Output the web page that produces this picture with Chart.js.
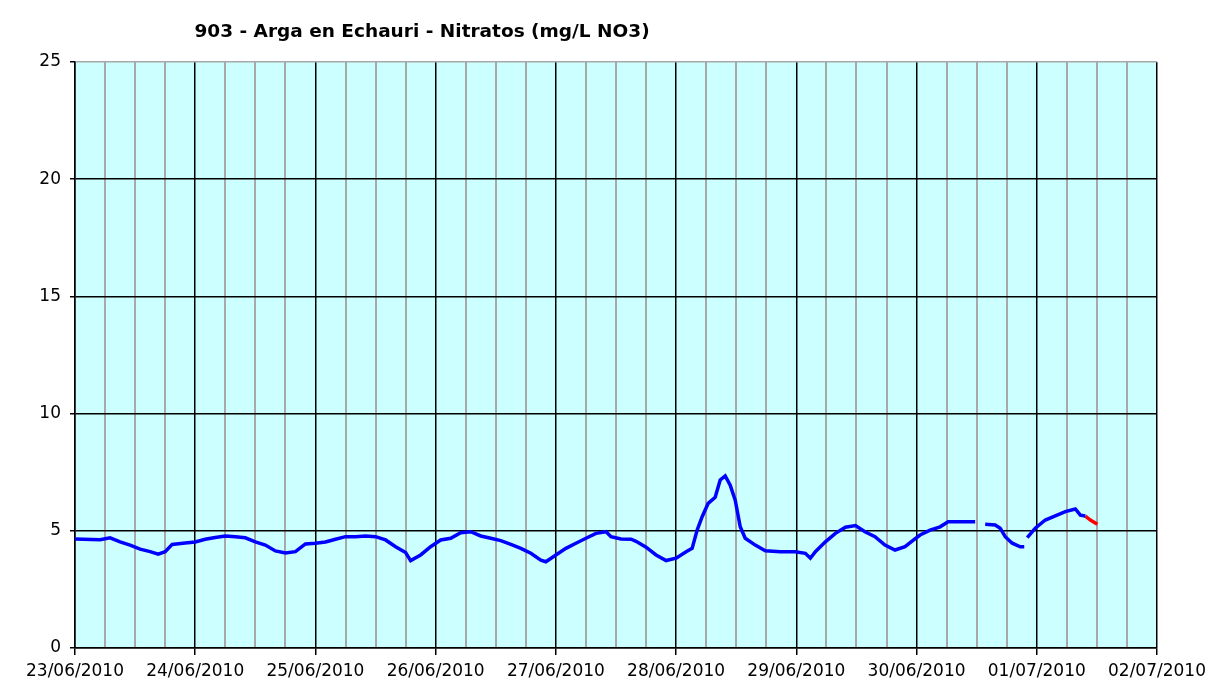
<!DOCTYPE html>
<html>
<head>
<meta charset="utf-8">
<script src="https://cdn.jsdelivr.net/npm/chart.js@4.4.1/dist/chart.umd.min.js"></script>
<style>
  html, body { margin: 0; padding: 0; background: #ffffff; }
  #wrap { width: 1227px; height: 689px; }
</style>
</head>
<body>
<div id="wrap"><canvas id="nitratosChart"></canvas></div>
<script>
// Nitratos - hours since 23/06/2010 00:00
const chartTitle = '903 - Arga en Echauri - Nitratos (mg/L NO3)';
const dayLabels = ['23/06/2010', '24/06/2010', '25/06/2010', '26/06/2010', '27/06/2010',
    '28/06/2010', '29/06/2010', '30/06/2010', '01/07/2010', '02/07/2010'];

const blueHours = [0, 5, 7, 9, 11, 13, 15, 16.6, 18, 19.4, 22, 24, 26, 28, 30, 32, 34, 36,
    38, 40, 42, 44, 46, 48, 50, 52, 54, 56, 58, 60, 62, 64, 66, 67, 69, 71, 73, 75, 77, 79,
    81, 83, 85, 87, 89, 91, 93, 94, 96, 98, 100, 102, 104, 106, 107, 109, 111, 112, 114, 116,
    118, 120, 122, 123.2, 124.2, 125.2, 126.4, 127.8, 128.8, 129.8, 130.8, 131.8, 132.8, 133.8,
    135.8, 137.8, 140.8, 143.8, 145.8, 146.8, 147.8, 149.8, 151.8, 153.8, 155.8, 157.7, 159.7,
    161.7, 163.7, 165.7, 167.1, 168.7, 170.7, 172.7, 174.3, 179.7, 180.5,
    181.7, 183.7, 184.7, 185.7, 187.1, 188.7, 189.5, 189.8,
    190.1, 191.7, 193.7, 195.7, 197.7, 199.7, 200.7, 201.7];
const blueValues = [4.65, 4.62, 4.7, 4.53, 4.39, 4.22, 4.11, 4.0, 4.11, 4.42, 4.48, 4.52, 4.64,
    4.71, 4.78, 4.75, 4.7, 4.53, 4.39, 4.14, 4.05, 4.11, 4.44, 4.47, 4.52, 4.64, 4.75, 4.75,
    4.78, 4.75, 4.61, 4.32, 4.07, 3.73, 3.97, 4.32, 4.61, 4.68, 4.92, 4.96, 4.78, 4.68, 4.58,
    4.42, 4.25, 4.04, 3.75, 3.68, 3.97, 4.25, 4.47, 4.68, 4.89, 4.96, 4.75, 4.65, 4.64, 4.55,
    4.3, 3.97, 3.73, 3.83, 4.11, 4.25, 5.03, 5.6, 6.17, 6.43, 7.17, 7.34, 6.95, 6.31, 5.17,
    4.68, 4.39, 4.15, 4.11, 4.11, 4.04, 3.83, 4.11, 4.53, 4.89, 5.15, 5.22, 4.96, 4.75, 4.39,
    4.18, 4.32, 4.56, 4.82, 5.03, 5.17, 5.39, 5.39, null,
    5.28, 5.25, 5.11, 4.75, 4.47, 4.32, 4.32, null,
    4.71, 5.11, 5.46, 5.64, 5.82, 5.93, 5.67, 5.63];

const redHours = [201.7, 202.7, 204.1];
const redValues = [5.63, 5.46, 5.28];

const toPoints = (xs, ys) => xs.map((x, i) => ({ x: x, y: ys[i] }));

const plotBackground = {
    id: 'plotBackground',
    beforeDraw(chart) {
        const { ctx, chartArea } = chart;
        ctx.save();
        ctx.fillStyle = '#ccffff';
        ctx.fillRect(chartArea.left, chartArea.top, chartArea.right - chartArea.left, chartArea.bottom - chartArea.top);
        ctx.restore();
    },
    afterDraw(chart) {
        const ctx = chart.ctx;
        ctx.save();
        ctx.fillStyle = '#000000';
        ctx.font = 'bold 18.5px "DejaVu Sans", sans-serif';
        ctx.textAlign = 'center';
        ctx.textBaseline = 'middle';
        ctx.fillText(chartTitle, 422, 32);
        ctx.restore();
    }
};

const ctx = document.getElementById('nitratosChart').getContext('2d');
new Chart(ctx, {
    type: 'line',
    data: {
        datasets: [{
            data: toPoints(blueHours, blueValues),
            borderColor: '#0000ff',
            borderWidth: 3.5,
            pointRadius: 0,
            tension: 0,
            spanGaps: false
        }, {
            data: toPoints(redHours, redValues),
            borderColor: '#ff0000',
            borderWidth: 3.5,
            pointRadius: 0,
            tension: 0
        }]
    },
    options: {
        responsive: true,
        maintainAspectRatio: false,
        animation: false,
        layout: { padding: { top: 62, right: 70, left: 0, bottom: 0 } },
        scales: {
            x: {
                type: 'linear',
                min: 0,
                max: 216,
                afterFit: scale => { scale.height = 41; },
                afterBuildTicks: scale => {
                    const t = [];
                    for (let h = 0; h <= 216; h += 6) t.push({ value: h });
                    scale.ticks = t;
                },
                ticks: {
                    autoSkip: false,
                    maxRotation: 0,
                    padding: 6,
                    color: '#000000',
                    font: { family: '"DejaVu Sans", sans-serif', size: 17 },
                    callback: v => (v % 24 === 0 ? dayLabels[v / 24] : '')
                },
                grid: {
                    color: c => (c.tick && c.tick.value % 24 === 0 ? '#000000' : '#a8a8a8'),
                    lineWidth: c => (c.tick && c.tick.value % 24 === 0 ? 1.5 : 2),
                    tickColor: c => (c.tick && c.tick.value % 24 === 0 ? '#000000' : 'rgba(0,0,0,0)'),
                    tickLength: 7
                },
                border: { color: '#000000', width: 1.5 }
            },
            y: {
                min: 0,
                max: 25,
                afterFit: scale => { scale.width = 75; },
                ticks: {
                    stepSize: 5,
                    padding: 9,
                    color: '#000000',
                    font: { family: '"DejaVu Sans", sans-serif', size: 17 }
                },
                grid: {
                    color: c => (c.tick && c.tick.value === 25 ? '#a8a8a8' : '#000000'),
                    tickColor: '#000000',
                    lineWidth: 1.5,
                    tickLength: 5
                },
                border: { color: '#000000', width: 1.5 }
            }
        },
        plugins: {
            legend: { display: false },
            tooltip: { enabled: false }
        }
    },
    plugins: [plotBackground]
});
</script>
</body>
</html>
